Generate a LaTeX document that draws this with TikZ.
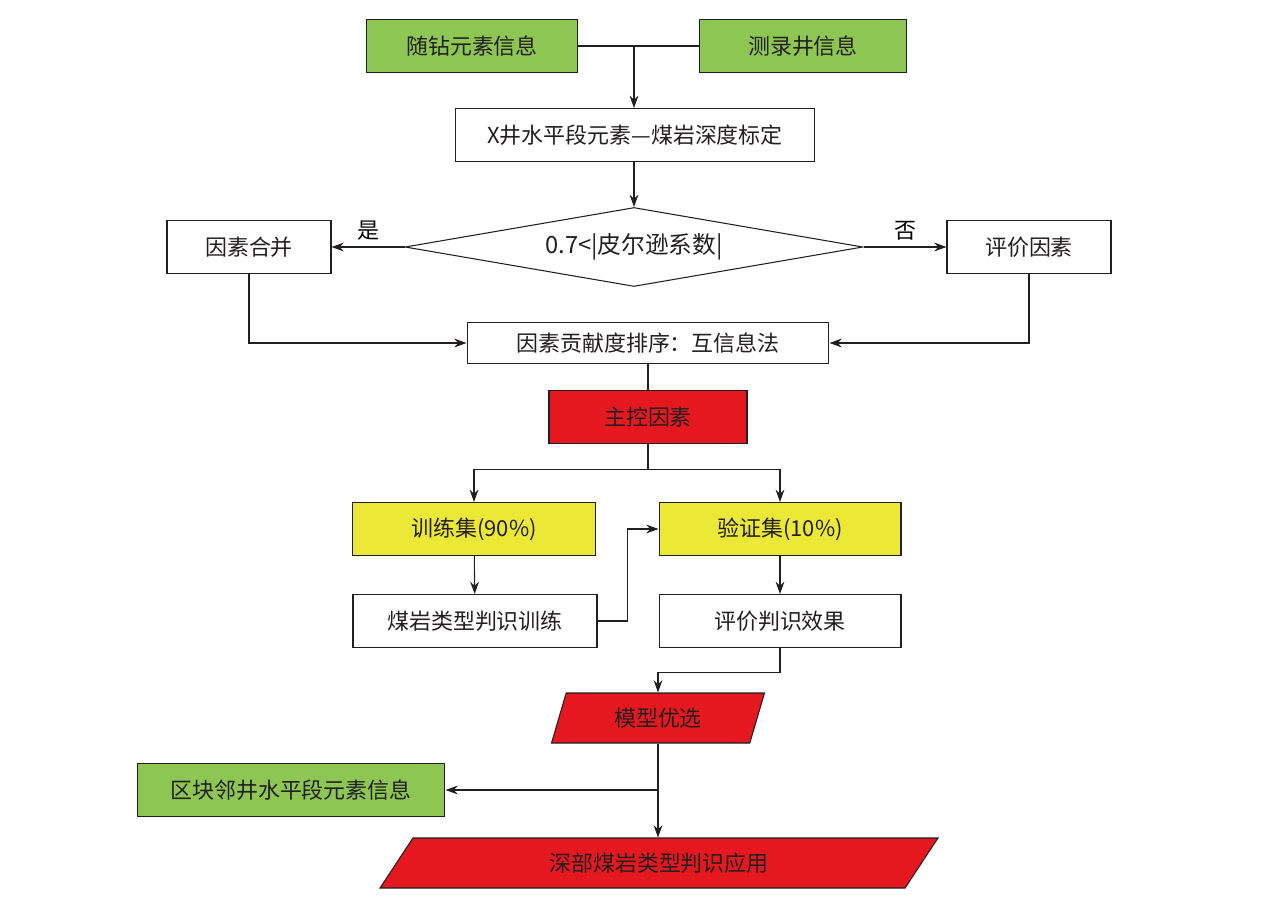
\documentclass[tikz,border=0pt]{standalone}
\usepackage{fontspec}
\setmainfont{Noto Sans CJK SC}
\usetikzlibrary{arrows.meta,shapes.geometric,positioning}
\definecolor{leafgreen}{RGB}{141,198,82}
\definecolor{lemon}{RGB}{236,232,54}
\definecolor{alarm}{RGB}{228,24,30}
\definecolor{inkgray}{RGB}{35,31,32}
\tikzstyle{block} = [rectangle, draw=inkgray, fill=white, text=inkgray,
    text centered, minimum height=1.06cm, inner sep=0pt]
\tikzstyle{gbox} = [block, fill=leafgreen]
\tikzstyle{ybox} = [block, fill=lemon]
\tikzstyle{rbox} = [block, fill=alarm]
\tikzstyle{dec} = [diamond, aspect=5.8, draw=inkgray, text=inkgray,
    minimum width=9.16cm, minimum height=1.58cm, inner sep=0pt]
\tikzstyle{para} = [trapezium, trapezium stretches body, draw=inkgray,
    fill=alarm, text=inkgray, minimum height=1cm, inner sep=0pt]

\begin{document}
\begin{tikzpicture}[x=0.02cm,y=-0.02cm,>={Stealth[length=7pt,width=5pt]},
                    draw=inkgray,line width=0.6pt,
                    font=\fontsize{12.5}{15}\selectfont]
  \useasboundingbox (0,0) rectangle (1269,907);

  \node[gbox, minimum width=4.22cm] (lwd) at (472,46) {随钻元素信息};
  \node[gbox, minimum width=4.14cm] (mud) at (803,46) {测录井信息};
  \node[block, minimum width=7.2cm] (calib) at (635,135) {X井水平段元素—煤岩深度标定};
  \node[dec] (pear) at (634,247) {\fontsize{13.5}{16}\selectfont 0.7<|皮尔逊系数|};
  \node[block, minimum width=3.28cm] (merge) at (249,247) {因素合并};
  \node[block, minimum width=3.28cm] (eval) at (1029,247) {评价因素};
  \node[block, minimum width=7.24cm, minimum height=0.82cm] (rank) at (648,343) {因素贡献度排序：互信息法};
  \node[rbox, minimum width=3.96cm] (main) at (648,417) {主控因素};
  \node[ybox, minimum width=4.86cm] (train) at (474,529) {训练集(90\%)};
  \node[ybox, minimum width=4.84cm] (valid) at (780,529) {验证集(10\%)};
  \node[block, minimum width=4.88cm] (fit) at (475,621) {煤岩类型判识训练};
  \node[block, minimum width=4.84cm] (score) at (780,621) {评价判识效果};
  \node[para, trapezium left angle=54, trapezium right angle=126,
        minimum width=4.26cm] (best) at (658,718) {模型优选};
  \node[gbox, minimum width=6.16cm] (near) at (291,790) {区块邻井水平段元素信息};
  \node[para, trapezium left angle=32, trapezium right angle=148,
        minimum width=11.16cm] (apply) at (659,863) {深部煤岩类型判识应用};

  \coordinate (j1) at (634,46);
  \coordinate (j2) at (658,790);

  \draw (lwd) -- (mud);
  \draw[->] (j1) -- (j1 |- calib.north);
  \draw[->] (calib.south -| pear.north) -- (pear.north);
  \path[->] (pear) edge node[above] {是} (merge)
            (pear) edge node[above] {否} (eval);
  \draw[->] (merge) |- (rank);
  \draw[->] (eval) |- (rank);
  \draw (rank) -- (main);
  \draw[->] (main.south) -- ++(0,25) -| (train);
  \draw[->] (main.south) -- ++(0,25) -| (valid);
  \draw[->] (train) -- (fit);
  \draw[->] (valid) -- (score);
  \draw[->] (fit.east) -- ++(30,0) |- (valid.west);
  \draw[->] (score.south) -- ++(0,24) -| (best.north);
  \draw[->] (best.south) -- (best.south |- apply.north);
  \draw[->] (j2) -- (near);
\end{tikzpicture}
\end{document}
